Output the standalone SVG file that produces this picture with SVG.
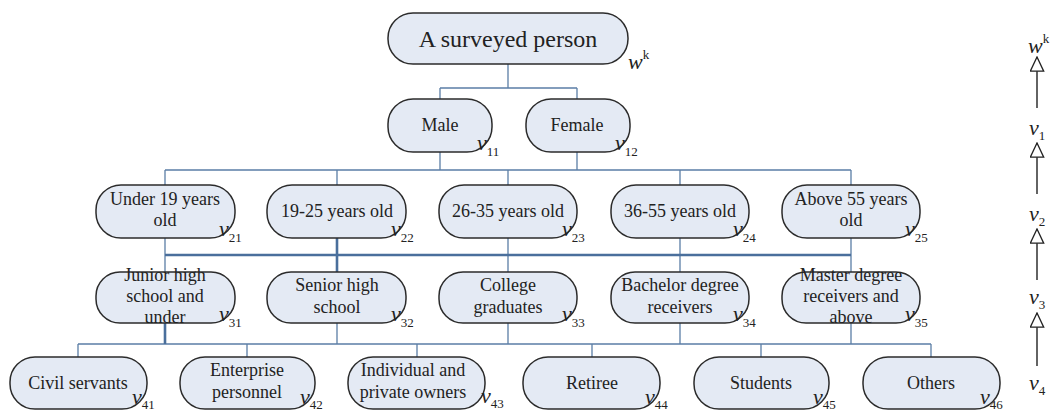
<svg xmlns="http://www.w3.org/2000/svg" width="1051" height="412" viewBox="0 0 1051 412">
<defs>
<style>
.box{fill:#e4eaf4;stroke:#2b2b2b;stroke-width:1.5}
.t{font-family:"Liberation Serif","Times New Roman",serif;font-size:18px;fill:#222;text-anchor:middle}
.big{font-size:24px}
.var{font-family:"Liberation Serif","Times New Roman",serif;font-style:italic;font-size:22px;fill:#222}
.sub{font-style:normal;font-size:13px}
.c{stroke:#5b7ea6;stroke-width:1.3;fill:none}
.thick{stroke:#4a6f9c;stroke-width:2.6}
.ax{stroke:#222;stroke-width:1.4;fill:none}
</style>
<marker id="tri" markerUnits="userSpaceOnUse" markerWidth="16" markerHeight="16" refX="15" refY="7.5" orient="auto">
<path d="M0.8,0.8 L15,7.5 L0.8,14.2 Z" fill="#fff" stroke="#222" stroke-width="1.3"/>
</marker>
</defs>
<rect width="1051" height="412" fill="#fff"/>

<g id="connectors">
<path class="c" d="M508,64 V88 M440,88 H577 M440,88 V99 M577,88 V99"/>
<path class="c" d="M440,152 V170 M577,152 V170 M165,170 H851 M165,170 V185 M337,170 V185 M508,170 V185 M680,170 V185 M851,170 V185"/>
<path class="c" d="M165,238 V272 M508,238 V272 M680,238 V272 M851,238 V272"/>
<path class="c thick" d="M337,238 V272"/>
<path class="c thick" d="M165,255 H851"/>
<path class="c" d="M337,323 V344 M508,323 V344 M680,323 V344 M851,323 V344 M78,344 H931 M78,344 V357 M247,344 V357 M417,344 V357 M592,344 V357 M761,344 V357 M931,344 V357"/>
<path class="c thick" d="M165,323 V344"/>
</g>

<g id="scale">
<line class="ax" x1="1037" y1="108" x2="1037" y2="57" marker-end="url(#tri)"/>
<line class="ax" x1="1037" y1="194" x2="1037" y2="143" marker-end="url(#tri)"/>
<line class="ax" x1="1037" y1="280" x2="1037" y2="229" marker-end="url(#tri)"/>
<line class="ax" x1="1037" y1="366" x2="1037" y2="313" marker-end="url(#tri)"/>
<text class="var" x="1028" y="53">w<tspan class="sub" font-style="italic" dy="-10">k</tspan></text>
<text class="var" x="1029" y="135">v<tspan class="sub" dy="5">1</tspan></text>
<text class="var" x="1029" y="221">v<tspan class="sub" dy="5">2</tspan></text>
<text class="var" x="1029" y="304">v<tspan class="sub" dy="5">3</tspan></text>
<text class="var" x="1029" y="390">v<tspan class="sub" dy="5">4</tspan></text>
</g>

<g id="root">
<rect class="box" x="388" y="13" width="240" height="51" rx="25"/>
<text class="t big" x="508" y="47">A surveyed person</text>
<text class="var" x="628" y="69">w<tspan class="sub" font-style="italic" dy="-10">k</tspan></text>
</g>

<g id="male">
<rect class="box" x="388" y="99" width="104" height="53" rx="25"/>
<text class="t" x="440" y="131">Male</text>
<text class="var" x="477" y="150">v<tspan class="sub" dy="6">11</tspan></text>
</g>
<g id="female">
<rect class="box" x="526" y="99" width="104" height="53" rx="25"/>
<text class="t" x="577" y="131">Female</text>
<text class="var" x="615" y="150">v<tspan class="sub" dy="6">12</tspan></text>
</g>

<g id="age1">
<rect class="box" x="96" y="185" width="139" height="53" rx="25"/>
<text class="t" x="165" y="205">Under 19 years</text>
<text class="t" x="165" y="226">old</text>
<text class="var" x="219" y="236">v<tspan class="sub" dy="6">21</tspan></text>
</g>
<g id="age2">
<rect class="box" x="267" y="185" width="139" height="53" rx="25"/>
<text class="t" x="337" y="217">19-25 years old</text>
<text class="var" x="391" y="236">v<tspan class="sub" dy="6">22</tspan></text>
</g>
<g id="age3">
<rect class="box" x="439" y="185" width="138" height="53" rx="25"/>
<text class="t" x="508" y="217">26-35 years old</text>
<text class="var" x="562" y="236">v<tspan class="sub" dy="6">23</tspan></text>
</g>
<g id="age4">
<rect class="box" x="611" y="185" width="138" height="53" rx="25"/>
<text class="t" x="680" y="217">36-55 years old</text>
<text class="var" x="733" y="236">v<tspan class="sub" dy="6">24</tspan></text>
</g>
<g id="age5">
<rect class="box" x="782" y="185" width="138" height="53" rx="25"/>
<text class="t" x="851" y="205">Above 55 years</text>
<text class="t" x="851" y="226">old</text>
<text class="var" x="905" y="236">v<tspan class="sub" dy="6">25</tspan></text>
</g>

<g id="edu1">
<rect class="box" x="96" y="272" width="139" height="51" rx="24"/>
<text class="t" x="165" y="281">Junior high</text>
<text class="t" x="165" y="302">school and</text>
<text class="t" x="165" y="323">under</text>
<text class="var" x="219" y="321">v<tspan class="sub" dy="6">31</tspan></text>
</g>
<g id="edu2">
<rect class="box" x="267" y="272" width="139" height="51" rx="24"/>
<text class="t" x="337" y="291">Senior high</text>
<text class="t" x="337" y="313">school</text>
<text class="var" x="391" y="321">v<tspan class="sub" dy="6">32</tspan></text>
</g>
<g id="edu3">
<rect class="box" x="439" y="272" width="138" height="51" rx="24"/>
<text class="t" x="508" y="291">College</text>
<text class="t" x="508" y="313">graduates</text>
<text class="var" x="562" y="321">v<tspan class="sub" dy="6">33</tspan></text>
</g>
<g id="edu4">
<rect class="box" x="611" y="272" width="138" height="51" rx="24"/>
<text class="t" x="680" y="291">Bachelor degree</text>
<text class="t" x="680" y="313">receivers</text>
<text class="var" x="733" y="321">v<tspan class="sub" dy="6">34</tspan></text>
</g>
<g id="edu5">
<rect class="box" x="782" y="272" width="138" height="51" rx="24"/>
<text class="t" x="851" y="281">Master degree</text>
<text class="t" x="851" y="302">receivers and</text>
<text class="t" x="851" y="323">above</text>
<text class="var" x="905" y="321">v<tspan class="sub" dy="6">35</tspan></text>
</g>

<g id="job1">
<rect class="box" x="10" y="357" width="137" height="52" rx="25"/>
<text class="t" x="78" y="389">Civil servants</text>
<text class="var" x="132" y="404">v<tspan class="sub" dy="5">41</tspan></text>
</g>
<g id="job2">
<rect class="box" x="180" y="357" width="135" height="52" rx="25"/>
<text class="t" x="247" y="376">Enterprise</text>
<text class="t" x="247" y="398">personnel</text>
<text class="var" x="300" y="404">v<tspan class="sub" dy="5">42</tspan></text>
</g>
<g id="job3">
<rect class="box" x="348" y="357" width="137" height="52" rx="25"/>
<text class="t" x="413" y="376">Individual and</text>
<text class="t" x="413" y="398">private owners</text>
<text class="var" x="481" y="403">v<tspan class="sub" dy="5">43</tspan></text>
</g>
<g id="job4">
<rect class="box" x="523" y="357" width="137" height="52" rx="25"/>
<text class="t" x="592" y="389">Retiree</text>
<text class="var" x="645" y="404">v<tspan class="sub" dy="5">44</tspan></text>
</g>
<g id="job5">
<rect class="box" x="694" y="357" width="135" height="52" rx="25"/>
<text class="t" x="761" y="389">Students</text>
<text class="var" x="813" y="404">v<tspan class="sub" dy="5">45</tspan></text>
</g>
<g id="job6">
<rect class="box" x="863" y="357" width="137" height="52" rx="25"/>
<text class="t" x="931" y="389">Others</text>
<text class="var" x="980" y="404">v<tspan class="sub" dy="5">46</tspan></text>
</g>
</svg>
